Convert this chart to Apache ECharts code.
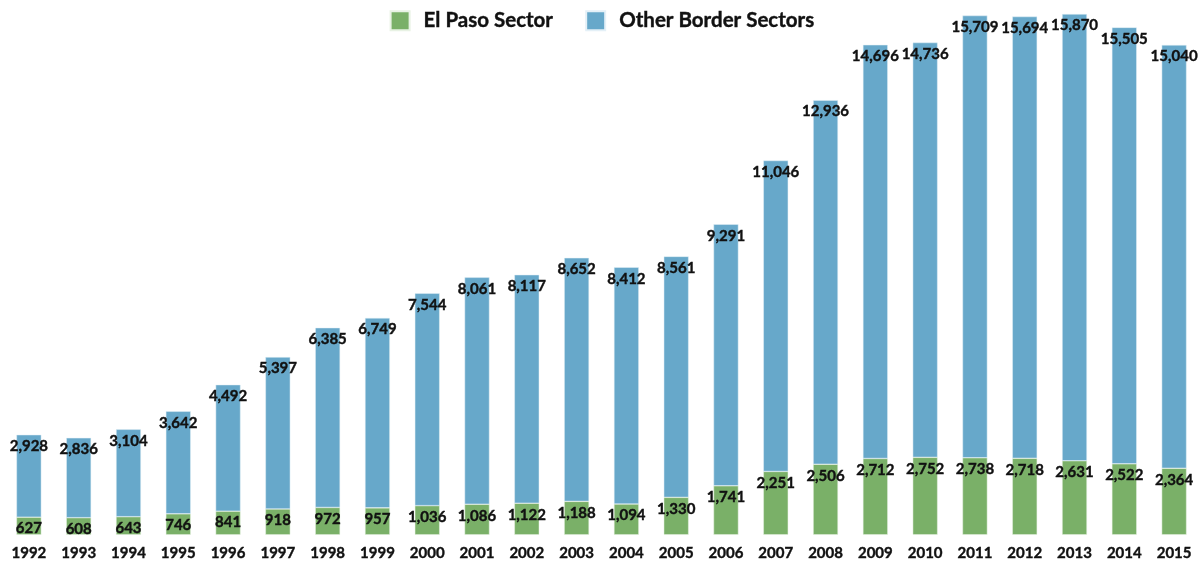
<!DOCTYPE html>
<html><head><meta charset="utf-8">
<script src="https://cdn.jsdelivr.net/npm/echarts@6/dist/echarts.min.js"></script>
<style>html,body{margin:0;padding:0;background:#fff}#c{width:1204px;height:561px}</style>
</head><body><div id="c"></div>
<script>
const years = ['1992','1993','1994','1995','1996','1997','1998','1999','2000','2001','2002','2003','2004','2005','2006','2007','2008','2009','2010','2011','2012','2013','2014','2015'];
const elPaso = [627,608,643,746,841,918,972,957,1036,1086,1122,1188,1094,1330,1741,2251,2506,2712,2752,2738,2718,2631,2522,2364];
const otherSectors = [2928,2836,3104,3642,4492,5397,6385,6749,7544,8061,8117,8652,8412,8561,9291,11046,12936,14696,14736,15709,15694,15870,15505,15040];

const FONT = 'Lato';
const fmt = p => p.value.toLocaleString('en-US');
const lbl = {show:true, position:'insideTop', distance:4, color:'#111', fontFamily:FONT, fontWeight:'bold', fontSize:15, formatter:fmt,
  textBorderColor:'#111', textBorderWidth:0.4};
const chart = echarts.init(document.getElementById('c'));
chart.setOption({
  animation:false,
  textStyle:{fontFamily:FONT},
  legend:{top:5, left:'center', icon:'rect', itemWidth:19, itemHeight:19, itemGap:32,
    textStyle:{fontFamily:FONT, fontWeight:'bold', fontSize:20.5, color:'#111', padding:[0,0,0,9],
      textBorderColor:'#111', textBorderWidth:0.4},
    data:['El Paso Sector','Other Border Sectors']},
  grid:{left:4, right:5, top:0, bottom:26},
  xAxis:{type:'category', data:years, axisLine:{show:false}, axisTick:{show:false},
    axisLabel:{color:'#111', fontFamily:FONT, fontWeight:'bold', fontSize:15, margin:11,
      textBorderColor:'#111', textBorderWidth:0.4}},
  yAxis:{type:'value', min:0, max:19000, show:false, splitLine:{show:false}},
  series:[
    {name:'El Paso Sector', type:'bar', stack:'a', data:elPaso, barWidth:'50%',
     itemStyle:{color:'#7ab068', borderColor:'#e8f2e4', borderWidth:0.5}, label:lbl},
    {name:'Other Border Sectors', type:'bar', stack:'a', data:otherSectors, barWidth:'50%',
     itemStyle:{color:'#67a8ca', borderColor:'#e4f0f7', borderWidth:0.5}, label:lbl}
  ]
});
</script></body></html>
